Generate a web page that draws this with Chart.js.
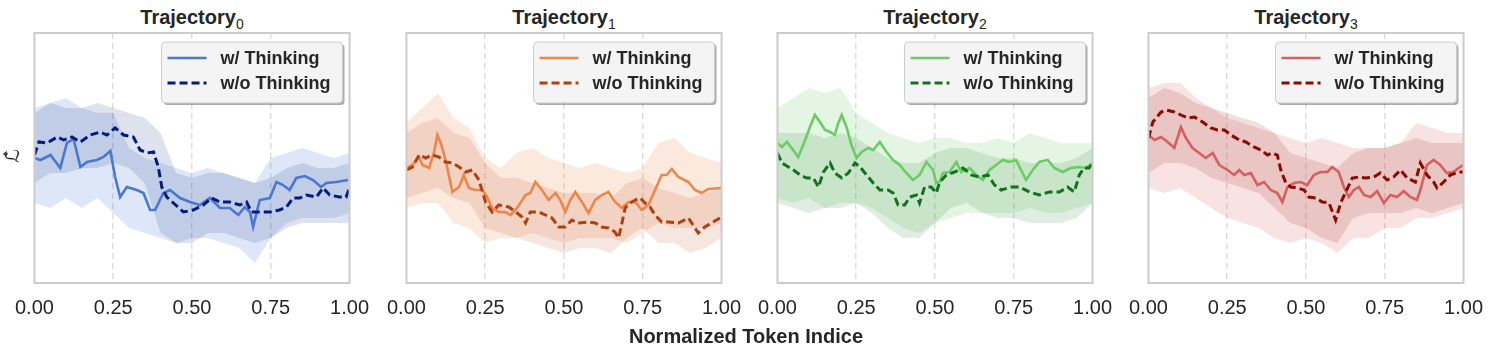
<!DOCTYPE html>
<html><head><meta charset="utf-8">
<script src="https://cdn.jsdelivr.net/npm/chart.js@4.4.0/dist/chart.umd.min.js"></script>
<style>
html,body{margin:0;padding:0;background:#fff;}
#wrap{position:relative;width:1495px;height:356px;overflow:hidden;font-family:"Liberation Sans",Arial,sans-serif;color:#262626;}
#wrap canvas{position:absolute;top:0;}
.ttl{position:absolute;top:5px;width:316px;text-align:center;font-size:20px;font-weight:bold;line-height:24px;white-space:nowrap;}
.ttl sub{font-weight:normal;font-size:14px;vertical-align:-5px;line-height:0;}
#xlab{position:absolute;left:34px;width:1424px;top:325px;text-align:center;font-size:20px;font-weight:bold;line-height:22px;}
#ylab{position:absolute;left:0px;top:144px;width:24px;height:24px;line-height:24px;text-align:center;font-family:"DejaVu Sans",sans-serif;font-size:19px;transform:rotate(-90deg);}
</style></head>
<body><div id="wrap"></div>
<script>
// ---------- data ----------
const xTickLabels = ['0.00','0.25','0.50','0.75','1.00'];
const trajectoryIds = ['0','1','2','3'];
const seriesLabels = ['w/ Thinking','w/o Thinking'];
const xAxisTitle = 'Normalized Token Indice';
const yAxisTitle = 'ℒ\u0302';
const bandX = [0,0.05,0.1,0.15,0.2,0.25,0.3,0.35,0.4,0.45,0.5,0.55,0.6,0.65,0.7,0.75,0.8,0.85,0.9,0.95,1.0];

// Trajectory 0
const t0WithX = [0,0.019,0.051,0.082,0.103,0.124,0.146,0.167,0.198,0.219,0.241,0.256,0.272,0.293,0.325,0.346,0.367,0.383,0.409,0.430,0.462,0.494,0.525,0.557,0.589,0.620,0.647,0.668,0.684,0.694,0.715,0.747,0.768,0.789,0.810,0.831,0.858,0.884,0.910,0.926,0.958,0.995];
const t0WithY = [125,123,128,115,140,144,116,121,123,126,132,106,86,96,93,90,73,73,90,93,85,81,78,85,75,75,68,76,71,56,83,85,101,98,93,105,107,103,96,100,101,103];
const t0WoX = [0,0.014,0.040,0.072,0.093,0.119,0.146,0.177,0.209,0.230,0.256,0.283,0.314,0.335,0.357,0.378,0.393,0.404,0.420,0.441,0.473,0.504,0.536,0.562,0.589,0.620,0.652,0.673,0.689,0.715,0.747,0.778,0.800,0.821,0.842,0.863,0.895,0.916,0.937,0.968,0.989,1.0];
const t0WoY = [128,141,140,146,143,146,141,148,151,148,155,148,146,133,130,131,116,96,86,80,71,73,78,85,81,81,78,81,71,71,71,73,76,85,85,88,86,95,88,86,86,95];
const t0WithHi = [175,180,185,175,170,170,135,125,120,115,110,115,110,105,100,125,130,135,130,125,130];
const t0WithLo = [80,75,85,75,85,70,55,50,45,40,45,45,40,35,20,45,60,65,65,65,70];
const t0WoHi = [170,180,175,175,180,175,170,165,150,110,105,110,110,105,100,105,115,120,115,115,120];
const t0WoLo = [100,110,110,115,115,120,115,100,50,40,40,50,50,45,40,45,55,60,60,60,60];

// Trajectory 1
const t1WithX = [0,0.019,0.040,0.051,0.072,0.088,0.098,0.109,0.124,0.146,0.167,0.182,0.198,0.219,0.241,0.256,0.272,0.293,0.314,0.330,0.351,0.378,0.393,0.409,0.430,0.451,0.473,0.488,0.504,0.520,0.536,0.557,0.578,0.599,0.620,0.641,0.662,0.684,0.705,0.726,0.747,0.768,0.789,0.810,0.826,0.842,0.863,0.895,0.916,0.937,0.958,1.0];
const t1WithY = [115,118,126,118,115,131,148,140,123,91,96,108,95,93,93,86,75,71,71,68,75,88,90,101,93,83,90,83,71,83,91,81,70,83,88,91,81,75,81,81,73,78,93,108,108,114,106,101,93,90,94,95];
const t1WoX = [0,0.019,0.040,0.061,0.082,0.103,0.124,0.146,0.167,0.188,0.209,0.230,0.251,0.272,0.293,0.325,0.351,0.367,0.378,0.393,0.420,0.441,0.462,0.483,0.504,0.525,0.546,0.578,0.599,0.620,0.641,0.662,0.673,0.684,0.694,0.710,0.726,0.742,0.757,0.773,0.789,0.810,0.831,0.863,0.895,0.916,0.926,0.947,0.968,0.984,1.0];
const t1WoY = [113,116,128,125,128,126,121,120,116,111,113,103,81,71,78,76,70,66,60,71,71,68,65,56,56,63,60,61,60,56,55,51,45,60,75,80,83,85,80,76,68,61,61,60,65,55,50,56,60,63,66];
const t1WithHi = [160,175,190,165,155,125,115,130,135,125,120,115,120,115,110,115,140,145,130,125,120];
const t1WithLo = [75,80,80,60,55,40,45,45,50,45,40,45,45,45,40,50,60,55,55,55,60];
const t1WoHi = [150,160,165,150,145,120,105,105,100,95,90,90,90,85,100,105,95,90,85,90,95];
const t1WoLo = [85,90,95,85,80,55,50,45,40,35,30,35,35,30,45,55,40,40,30,35,45];

// Trajectory 2
const t2WithX = [0,0.014,0.030,0.045,0.066,0.088,0.103,0.119,0.135,0.151,0.167,0.182,0.193,0.204,0.219,0.235,0.251,0.267,0.288,0.304,0.325,0.346,0.367,0.388,0.409,0.430,0.451,0.473,0.494,0.504,0.515,0.525,0.546,0.568,0.583,0.610,0.631,0.652,0.673,0.694,0.715,0.736,0.757,0.773,0.789,0.810,0.831,0.858,0.879,0.905,0.931,0.958,0.979,1.0];
const t2WithY = [140,136,141,135,126,143,156,168,161,153,151,148,160,168,156,138,125,131,135,133,141,131,123,118,110,103,108,121,113,100,101,110,111,121,111,115,108,103,113,118,123,121,123,113,103,113,121,123,115,111,115,116,115,120];
const t2WoX = [0,0.014,0.035,0.051,0.072,0.093,0.114,0.130,0.146,0.167,0.182,0.204,0.225,0.246,0.262,0.283,0.304,0.325,0.351,0.367,0.383,0.404,0.420,0.441,0.451,0.467,0.488,0.504,0.515,0.536,0.562,0.589,0.615,0.641,0.668,0.689,0.710,0.742,0.768,0.800,0.831,0.863,0.895,0.921,0.942,0.958,0.973,0.989,1.0];
const t2WoY = [130,120,116,113,108,105,105,96,111,120,110,105,110,120,116,108,100,93,93,90,78,78,86,88,80,96,96,90,101,108,111,115,108,106,108,98,93,96,96,91,88,91,91,96,91,108,115,115,120];
const t2WithHi = [175,185,195,190,195,170,160,150,145,140,145,145,140,140,145,140,150,145,140,140,140];
const t2WithLo = [85,80,85,75,80,80,75,65,55,50,60,65,70,70,70,70,75,70,70,75,80];
const t2WoHi = [150,150,150,145,150,145,135,125,120,120,130,135,135,130,125,125,120,120,120,125,135];
const t2WoLo = [80,75,70,75,75,80,70,55,45,45,60,75,80,70,65,65,60,60,60,65,80];

// Trajectory 3
const t3WithX = [0,0.019,0.040,0.061,0.082,0.103,0.119,0.140,0.161,0.182,0.204,0.225,0.251,0.272,0.288,0.304,0.325,0.346,0.367,0.388,0.409,0.425,0.441,0.462,0.483,0.504,0.525,0.546,0.568,0.583,0.604,0.620,0.636,0.652,0.668,0.684,0.705,0.726,0.747,0.768,0.789,0.810,0.831,0.852,0.863,0.884,0.905,0.926,0.947,0.968,0.984,1.0];
const t3WithY = [148,143,146,141,135,156,145,135,130,125,130,118,113,108,113,108,110,98,101,93,90,81,96,100,101,98,108,111,111,116,111,96,86,93,96,88,86,92,80,88,86,92,86,83,93,118,123,118,110,111,115,118];
const t3WoX = [0,0.014,0.040,0.056,0.082,0.103,0.124,0.146,0.172,0.198,0.219,0.241,0.262,0.288,0.309,0.335,0.357,0.378,0.393,0.409,0.420,0.436,0.451,0.473,0.494,0.509,0.531,0.552,0.573,0.594,0.610,0.626,0.647,0.668,0.689,0.715,0.736,0.757,0.778,0.800,0.821,0.847,0.863,0.884,0.905,0.916,0.937,0.958,0.984,1.0];
const t3WoY = [145,161,171,173,171,168,165,166,161,155,153,153,148,143,141,136,133,128,130,128,113,100,96,95,93,86,85,81,80,63,80,91,105,106,105,106,110,103,106,113,105,101,120,108,101,95,101,108,111,111];
const t3WithHi = [195,200,200,185,175,165,160,155,150,145,140,145,140,135,135,135,140,160,155,150,150];
const t3WithLo = [95,90,95,85,75,65,60,55,45,40,45,40,30,45,45,55,55,65,65,70,75];
const t3WoHi = [185,195,190,180,175,170,165,160,150,130,125,120,115,130,135,135,140,145,140,140,140];
const t3WoLo = [110,120,120,115,105,100,95,90,75,60,55,45,40,65,70,70,70,75,70,75,80];

const colorsWith = ['#4878d0','#ee854a','#6acc64','#d65f5f'];
const colorsWo = ['#001c7f','#b1400d','#12711c','#8c0800'];

// ---------- rendering ----------
const panels = [
  {wx:t0WithX, wy:t0WithY, ox:t0WoX, oy:t0WoY, wh:t0WithHi, wl:t0WithLo, oh:t0WoHi, ol:t0WoLo},
  {wx:t1WithX, wy:t1WithY, ox:t1WoX, oy:t1WoY, wh:t1WithHi, wl:t1WithLo, oh:t1WoHi, ol:t1WoLo},
  {wx:t2WithX, wy:t2WithY, ox:t2WoX, oy:t2WoY, wh:t2WithHi, wl:t2WithLo, oh:t2WoHi, ol:t2WoLo},
  {wx:t3WithX, wy:t3WithY, ox:t3WoX, oy:t3WoY, wh:t3WithHi, wl:t3WithLo, oh:t3WoHi, ol:t3WoLo}
];
const plotLefts = [34, 406, 777, 1148];
const PLOT_W = 316, PAD = 25, CANVAS_H = 356;
const FONT = '"Liberation Sans", Arial, sans-serif';

function pts(xs, ys){ return xs.map((x,i)=>({x:x, y:ys[i]})); }
function rgba(hex, a){
  const n = parseInt(hex.slice(1),16);
  return 'rgba('+((n>>16)&255)+','+((n>>8)&255)+','+(n&255)+','+a+')';
}

const framePlugin = {
  id:'frame',
  afterDraw(chart){
    const a = chart.chartArea, ctx = chart.ctx;
    ctx.save();
    ctx.strokeStyle = '#cccccc'; ctx.lineWidth = 2;
    ctx.strokeRect(a.left, a.top, a.right-a.left, a.bottom-a.top);
    ctx.restore();
  }
};
const boxLegendPlugin = {
  id:'boxLegend',
  afterDraw(chart){
    const a = chart.chartArea, ctx = chart.ctx;
    const w = 181, h = 61, L = a.right - 7 - w, T = a.top + 9;
    ctx.save();
    ctx.fillStyle = 'rgba(0,0,0,0.32)';
    ctx.beginPath(); ctx.roundRect(L+2, T+2, w, h, 4); ctx.fill();
    ctx.fillStyle = '#f4f4f4';
    ctx.beginPath(); ctx.roundRect(L, T, w, h, 4); ctx.fill();
    ctx.strokeStyle = '#cccccc'; ctx.lineWidth = 1; ctx.stroke();
    const items = chart.data.datasets.filter(d => d.inLegend);
    items.forEach((d,i) => {
      const y = T + 16 + 25*i;
      ctx.strokeStyle = d.borderColor; ctx.lineWidth = d.borderWidth;
      ctx.setLineDash(d.borderDash || []);
      ctx.beginPath(); ctx.moveTo(L+6, y); ctx.lineTo(L+45, y); ctx.stroke();
      ctx.setLineDash([]);
      ctx.fillStyle = '#262626';
      ctx.font = 'bold 18px ' + FONT;
      ctx.textBaseline = 'middle';
      ctx.fillText(d.label, L+59, y+1);
    });
    ctx.restore();
  }
};

function makeConfig(p, k){
  const cW = colorsWith[k], cO = colorsWo[k];
  const band = (ys, c, a, fill, ord) => ({
    label:'', data: pts(bandX, ys), borderWidth:0, pointRadius:0,
    backgroundColor: rgba(c, a), fill: fill, order: ord, tension: 0
  });
  return {
    type:'line',
    data:{ datasets:[
      {label:seriesLabels[0], inLegend:true, data:pts(p.wx,p.wy), borderColor:cW, borderWidth:2.6, pointRadius:0, fill:false, order:2},
      {label:seriesLabels[1], inLegend:true, data:pts(p.ox,p.oy), borderColor:cO, borderWidth:3, borderDash:[8,4], pointRadius:0, fill:false, order:1},
      band(p.wh, cW, 0.18, '+1', 12), band(p.wl, cW, 0, false, 12),
      band(p.oh, cO, 0.13, '+1', 11), band(p.ol, cO, 0, false, 11)
    ]},
    options:{
      responsive:false, maintainAspectRatio:false, animation:false, devicePixelRatio:1,
      layout:{ padding:{ left:PAD, right:PAD, top:33, bottom:0 } },
      plugins:{ legend:{display:false}, tooltip:{enabled:false}, title:{display:false} },
      scales:{
        x:{ type:'linear', min:0, max:1,
            afterFit(s){ s.height = 73; },
            ticks:{ stepSize:0.25, padding:13, color:'#262626', font:{family:FONT, size:20},
                    callback:(v)=> xTickLabels[Math.round(v*4)] },
            grid:{ drawTicks:false, lineWidth:1.5,
                   color:(c)=> (c.tick && (c.tick.value===0 || c.tick.value===1)) ? 'rgba(0,0,0,0)' : '#dddddd' },
            border:{ display:false, dash:[6,4] } },
        y:{ display:false, min:0, max:250 }
      }
    },
    plugins:[framePlugin, boxLegendPlugin]
  };
}

const wrap = document.getElementById('wrap');
panels.forEach((p, k) => {
  const t = document.createElement('div');
  t.className = 'ttl';
  t.style.left = plotLefts[k] + 'px';
  t.innerHTML = 'Trajectory<sub>' + trajectoryIds[k] + '</sub>';
  wrap.appendChild(t);

  // first pass: measure how much room the axis needs around the plotting area
  let cv = document.createElement('canvas');
  cv.width = PLOT_W + 2*PAD; cv.height = CANVAS_H;
  wrap.appendChild(cv);
  let chart = new Chart(cv, makeConfig(p, k));
  const extra = cv.width - (chart.chartArea.right - chart.chartArea.left);
  chart.destroy();
  cv.remove();

  // second pass: canvas sized so the plotting area is exactly PLOT_W wide
  cv = document.createElement('canvas');
  cv.width = PLOT_W + extra; cv.height = CANVAS_H;
  cv.style.width = cv.width + 'px'; cv.style.height = CANVAS_H + 'px';
  wrap.appendChild(cv);
  chart = new Chart(cv, makeConfig(p, k));
  cv.style.left = (plotLefts[k] - chart.chartArea.left) + 'px';
});

const xl = document.createElement('div'); xl.id = 'xlab'; xl.textContent = xAxisTitle; wrap.appendChild(xl);
const yl = document.createElement('div'); yl.id = 'ylab'; yl.textContent = yAxisTitle; wrap.appendChild(yl);
</script>
</body></html>
